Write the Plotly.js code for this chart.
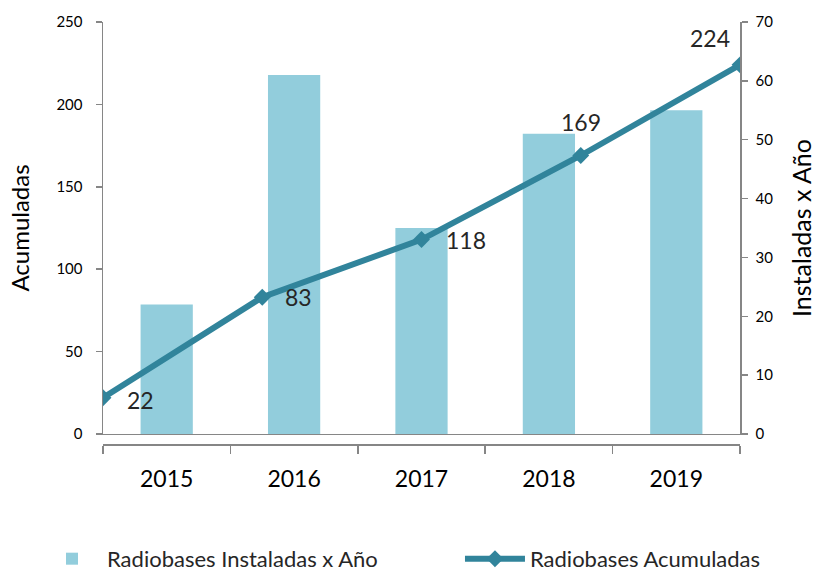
<!DOCTYPE html>
<html>
<head>
<meta charset="utf-8">
<script src="https://cdn.plot.ly/plotly-3.0.1.min.js"></script>
<style>html,body{margin:0;padding:0;background:#fff;}#chart{width:816px;height:573px;}</style>
</head>
<body>
<div id="chart"></div>
<script>
const years = ['2015', '2016', '2017', '2018', '2019'];
const instaladas = [22, 61, 35, 51, 55];
const acumuladas = [22, 83, 118, 169, 224];
const labelShiftX = [37, 36, 44, 0, -30];
const labelShiftY = [-2, 0, 0, 33, 27];

const axisColor = '#868686';
const fontFam = 'Lato, "Open Sans", sans-serif';

const bars = {
  type: 'bar',
  name: 'Radiobases Instaladas x Año',
  x: years,
  y: instaladas,
  xaxis: 'x',
  yaxis: 'y',
  width: 0.41,
  marker: {color: '#92CDDC'},
  legend: 'legend'
};
const line = {
  type: 'scatter',
  mode: 'lines+markers',
  name: 'Radiobases Acumuladas',
  x: years.map((_, i) => i),
  y: acumuladas,
  xaxis: 'x2',
  yaxis: 'y2',
  line: {color: '#31849B', width: 6},
  marker: {symbol: 'diamond', size: 13, color: '#31849B'},
  legend: 'legend2'
};

const annotations = acumuladas.map((v, i) => ({
  xref: 'x2', yref: 'y2', x: i, y: v,
  text: String(v), showarrow: false,
  xshift: labelShiftX[i], yshift: labelShiftY[i],
  font: {size: 23, color: '#262626', family: fontFam}
}));

const legendCommon = {
  orientation: 'h', xanchor: 'left', y: -0.322, yanchor: 'bottom',
  font: {size: 22, color: '#262626'},
  itemwidth: 60,
  bgcolor: 'rgba(0,0,0,0)'
};

const layout = {
  width: 816, height: 573,
  margin: {l: 103, r: 76, t: 22, b: 129, autoexpand: false},
  paper_bgcolor: '#fff', plot_bgcolor: '#fff',
  font: {family: fontFam, color: '#000'},
  showlegend: true,
  legend: Object.assign({x: -0.1036}, legendCommon),
  legend2: Object.assign({x: 0.5604}, legendCommon),
  xaxis: {
    type: 'category',
    anchor: 'free', position: 0,
    showline: true, linecolor: axisColor, linewidth: 1.5,
    ticks: 'outside', tickson: 'boundaries', ticklen: 8, tickcolor: axisColor, tickwidth: 1.5,
    ticklabelstandoff: 14,
    tickfont: {size: 23, color: '#000'},
    showgrid: false, zeroline: false
  },
  xaxis2: {
    overlaying: 'x', anchor: 'y2', range: [0, 4],
    showline: true, linecolor: axisColor, linewidth: 1.5,
    showticklabels: false, ticks: '', showgrid: false, zeroline: false
  },
  yaxis: {
    domain: [0.0237, 1],
    side: 'right', anchor: 'x',
    range: [0, 70], dtick: 10,
    showline: true, linecolor: axisColor, linewidth: 1.5,
    ticks: 'outside', ticklen: 6, tickcolor: axisColor, tickwidth: 1.5,
    ticklabelstandoff: 5,
    tickfont: {size: 15, color: '#000'},
    showgrid: false, zeroline: false,
    title: {text: 'Instaladas x Año', font: {size: 25, color: '#000'}, standoff: 22}
  },
  yaxis2: {
    overlaying: 'y', side: 'left', anchor: 'x2',
    range: [0, 250], dtick: 50,
    showline: true, linecolor: axisColor, linewidth: 1.5,
    ticks: 'outside', ticklen: 6, tickcolor: axisColor, tickwidth: 1.5,
    ticklabelstandoff: 10,
    tickfont: {size: 15, color: '#000'},
    showgrid: false, zeroline: false,
    title: {text: 'Acumuladas', font: {size: 24, color: '#000'}, standoff: 20}
  },
  annotations: annotations
};

Plotly.newPlot('chart', [bars, line], layout, {displayModeBar: false, staticPlot: true});
</script>
</body>
</html>
